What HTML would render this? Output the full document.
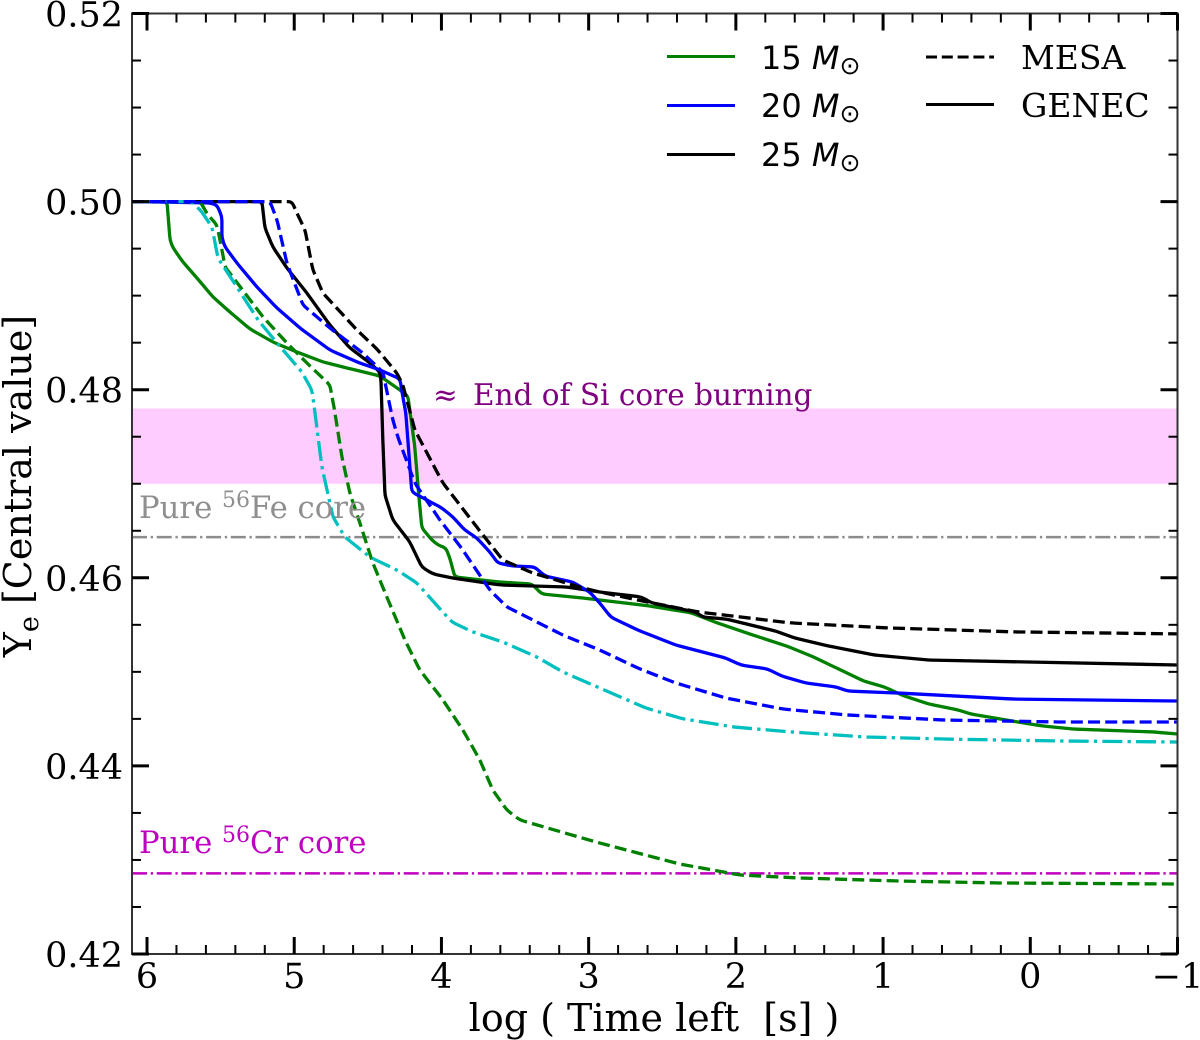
<!DOCTYPE html>
<html lang="en">
<head>
<meta charset="utf-8">
<title>Central Ye vs time left</title>
<style>
html,body{margin:0;padding:0;background:#fff;width:1200px;height:1040px;overflow:hidden}
svg{display:block}
text{font-family:"DejaVu Serif","Liberation Serif",serif;fill:#000;white-space:pre}
.sans{font-family:"DejaVu Sans","Liberation Sans",sans-serif}
</style>
</head>
<body>
<svg id="chart" width="1200" height="1040" viewBox="0 0 1200 1040" xmlns="http://www.w3.org/2000/svg">
  <g id="band-layer"></g>
  <g id="ref-layer"></g>
  <g id="series-layer"></g>
  <g id="axes-layer"></g>

  <text x="433" y="405" font-size="29.5" style="fill:#800080">≈<tspan x="473">End of Si core burning</tspan></text>
  <text x="139" y="518" font-size="30.7" style="fill:#8f8f8f">Pure <tspan dy="-11" font-size="22">56</tspan><tspan dy="11">Fe core</tspan></text>
  <text x="139" y="853" font-size="30.7" style="fill:#c000c0">Pure <tspan dy="-11" font-size="22">56</tspan><tspan dy="11">Cr core</tspan></text>

  <text x="654" y="1031" font-size="38" text-anchor="middle">log ( Time left  [s] )</text>
  <text transform="translate(31,486) rotate(-90)" font-size="38" text-anchor="middle">Y<tspan dy="7" font-size="27">e</tspan><tspan dy="-7"> [Central value]</tspan></text>

  <g>
    <line x1="667" x2="735" y1="56.5" y2="56.5" stroke="#008000" stroke-width="3"/>
    <text class="sans" x="761" y="69" font-size="32">15 <tspan font-style="italic">M</tspan><tspan dy="5" font-size="25">⊙</tspan></text>
    <line x1="667" x2="735" y1="105.5" y2="105.5" stroke="#0000ff" stroke-width="3"/>
    <text class="sans" x="761" y="117" font-size="32">20 <tspan font-style="italic">M</tspan><tspan dy="5" font-size="25">⊙</tspan></text>
    <line x1="667" x2="735" y1="154.5" y2="154.5" stroke="#000" stroke-width="3"/>
    <text class="sans" x="761" y="166" font-size="32">25 <tspan font-style="italic">M</tspan><tspan dy="5" font-size="25">⊙</tspan></text>
    <line x1="926" x2="994" y1="57" y2="57" stroke="#000" stroke-width="3" stroke-dasharray="11 4.8"/>
    <text x="1021" y="69" font-size="33">MESA</text>
    <line x1="926" x2="994" y1="104.5" y2="104.5" stroke="#000" stroke-width="3"/>
    <text x="1021" y="117" font-size="33">GENEC</text>
  </g>
</svg>

<script>
// ---- axis tick labels ----
const xTickValues = [6, 5, 4, 3, 2, 1, 0, -1];
const xTickLabels = ["6", "5", "4", "3", "2", "1", "0", "\u22121"];
const yTickValues = [0.42, 0.44, 0.46, 0.48, 0.50, 0.52];
const yTickLabels = ["0.42", "0.44", "0.46", "0.48", "0.50", "0.52"];

// ---- axis limits ----
const xLimits = [6.102, -1];
const yLimits = [0.42, 0.52];

// ---- reference values ----
const feCoreYe = 0.46433;
const crCoreYe = 0.42857;
const siBandYe = [0.47, 0.478];

// ---- 15 Msun GENEC ----
const m15GenecLogT = [6.102,5.864,5.844,5.823,5.756,5.661,5.552,5.437,5.301,5.145,4.982,4.805,4.642,4.418,4.282,4.228,4.181,4.153,4.133,4.065,4.024,3.970,3.943,3.909,3.603,3.386,3.318,3.040,2.925,2.585,2.300,2.144,1.886,1.655,1.472,1.316,1.132,0.990,0.874,0.691,0.487,0.406,0.121,-0.083,-0.293,-0.836,-1];
const m15GenecYe = [0.5,0.5,0.49592,0.49507,0.49358,0.49188,0.48986,0.48826,0.48646,0.48507,0.48401,0.48295,0.48231,0.48146,0.47997,0.47933,0.47391,0.46859,0.4653,0.46402,0.46349,0.46317,0.46211,0.46009,0.45955,0.45934,0.45828,0.45785,0.45764,0.457,0.45626,0.4553,0.45392,0.45275,0.45158,0.45041,0.44903,0.44839,0.44754,0.44658,0.44594,0.44552,0.44477,0.44424,0.44392,0.44361,0.44339];

// ---- 15 Msun MESA ----
const m15MesaLogT = [6.102,5.640,5.586,5.525,5.491,5.470,5.335,5.212,5.050,4.914,4.758,4.730,4.676,4.622,4.554,4.466,4.371,4.248,4.147,3.990,3.855,3.739,3.651,3.556,3.468,2.925,2.381,1.974,1.567,0.888,0.209,-1];
const m15MesaYe = [0.5,0.5,0.49858,0.49751,0.49486,0.49305,0.49028,0.48773,0.48497,0.48284,0.4805,0.47816,0.47285,0.46902,0.46583,0.46157,0.45796,0.45339,0.4502,0.44701,0.44382,0.44063,0.43744,0.43531,0.43425,0.4318,0.42957,0.4284,0.42808,0.42776,0.42755,0.42744];

// ---- 20 Msun GENEC ----
const m20GenecLogT = [6.102,5.572,5.525,5.491,5.491,5.470,5.389,5.253,5.117,4.961,4.758,4.574,4.418,4.282,4.262,4.242,4.201,4.099,3.997,3.923,3.841,3.760,3.671,3.617,3.515,3.366,3.298,3.108,2.993,2.925,2.850,2.667,2.409,2.069,1.967,1.784,1.689,1.526,1.316,1.241,0.902,0.121,-1];
const m20GenecYe = [0.5,0.49985,0.49964,0.49837,0.49613,0.49518,0.49347,0.49092,0.48869,0.48656,0.48422,0.48295,0.4821,0.48114,0.47923,0.47752,0.46912,0.46827,0.46742,0.46647,0.46508,0.46423,0.46274,0.46157,0.46126,0.46115,0.46019,0.45955,0.45849,0.45732,0.45583,0.45445,0.45286,0.45147,0.45073,0.4503,0.44956,0.44882,0.44839,0.44796,0.44775,0.44711,0.4469];

// ---- 20 Msun MESA ----
const m20MesaLogT = [6.102,5.165,5.117,5.050,4.941,4.758,4.534,4.398,4.330,4.296,4.181,4.011,3.855,3.671,3.556,3.176,2.925,2.667,2.409,2.069,1.682,1.241,0.589,-0.191,-1];
const m20MesaYe = [0.5,0.5,0.49805,0.49347,0.48901,0.48656,0.4839,0.48188,0.47678,0.47497,0.47008,0.46615,0.46296,0.4587,0.4569,0.45392,0.45232,0.45041,0.44882,0.44722,0.44605,0.44541,0.44488,0.44467,0.44467];

// ---- 25 Msun GENEC ----
const m25GenecLogT = [6.102,5.219,5.199,5.145,5.050,4.914,4.758,4.622,4.486,4.418,4.411,4.398,4.384,4.330,4.215,4.133,4.058,3.923,3.603,3.149,2.925,2.640,2.572,2.273,2.225,2.069,1.730,1.601,1.370,1.058,0.691,-1];
const m25GenecYe = [0.5,0.5,0.4972,0.49518,0.49294,0.49028,0.48688,0.48444,0.48284,0.48188,0.48103,0.47465,0.4688,0.46615,0.46381,0.46115,0.46041,0.45998,0.45924,0.45902,0.45849,0.45796,0.45732,0.45636,0.45583,0.45562,0.45434,0.4536,0.45275,0.45179,0.45126,0.45073];

// ---- 25 Msun MESA ----
const m25MesaLogT = [6.102,5.016,4.982,4.927,4.873,4.805,4.574,4.432,4.303,4.262,4.181,3.990,3.760,3.583,3.380,3.040,2.925,2.667,2.253,1.626,0.956,0.073,-1];
const m25MesaYe = [0.5,0.5,0.49879,0.49698,0.49273,0.49028,0.48635,0.48422,0.48178,0.4805,0.47572,0.47008,0.4654,0.46189,0.46051,0.45892,0.45849,0.45764,0.45636,0.4552,0.45466,0.45424,0.45403];

// ---- cyan dash-dot track ----
const cyanLogT = [6.102,5.695,5.627,5.559,5.518,5.389,5.246,5.117,4.948,4.880,4.859,4.812,4.737,4.656,4.486,4.303,4.167,3.990,3.929,3.787,3.583,3.352,3.176,2.925,2.612,2.354,2.015,1.628,1.112,0.589,-0.191,-1];
const cyanYe = [0.5,0.5,0.4989,0.4973,0.494,0.49092,0.48741,0.48497,0.48188,0.47997,0.47752,0.47178,0.46647,0.46434,0.46221,0.46083,0.45945,0.45636,0.4553,0.45424,0.45317,0.45158,0.44999,0.44828,0.44616,0.44499,0.44414,0.44361,0.44307,0.44286,0.44265,0.44254];

const NS = "http://www.w3.org/2000/svg";
const plotLeft = 132, plotRight = 1177.5, plotTop = 13.5, plotBottom = 954;
function xScale(v) { return plotLeft + (xLimits[0] - v) / (xLimits[0] - xLimits[1]) * (plotRight - plotLeft); }
function yScale(v) { return plotBottom - (v - yLimits[0]) / (yLimits[1] - yLimits[0]) * (plotBottom - plotTop); }
function mk(tag, attrs, parent) {
  const el = document.createElementNS(NS, tag);
  for (const k in attrs) el.setAttribute(k, attrs[k]);
  parent.appendChild(el);
  return el;
}

// band
const bandLayer = document.getElementById('band-layer');
const band = mk('rect', {x: plotLeft, width: plotRight - plotLeft, y: yScale(siBandYe[1]), height: yScale(siBandYe[0]) - yScale(siBandYe[1]), fill: '#ffccff'}, bandLayer);



// reference lines
const refLayer = document.getElementById('ref-layer');
const feLine = mk('line', {x1: plotLeft, x2: plotRight, y1: yScale(feCoreYe), y2: yScale(feCoreYe), stroke: '#8c8c8c', 'stroke-width': 2.5, 'stroke-dasharray': '15 3.7 2.3 3.7'}, refLayer);


const crLine = mk('line', {x1: plotLeft, x2: plotRight, y1: yScale(crCoreYe), y2: yScale(crCoreYe), stroke: '#c000c0', 'stroke-width': 2.5, 'stroke-dasharray': '15 3.7 2.3 3.7'}, refLayer);



// series: polyline with slightly rounded joints
const seriesLayer = document.getElementById('series-layer');
function roundedPath(xs, ys) {
  const pts = xs.map((v, i) => [xScale(v), yScale(ys[i])]);
  const r = 4;
  let d = 'M' + pts[0][0].toFixed(1) + ' ' + pts[0][1].toFixed(1);
  for (let i = 1; i < pts.length - 1; i++) {
    const p = pts[i], a = pts[i - 1], b = pts[i + 1];
    const la = Math.hypot(p[0] - a[0], p[1] - a[1]) || 1;
    const lb = Math.hypot(b[0] - p[0], b[1] - p[1]) || 1;
    const ra = Math.min(r, la / 2), rb = Math.min(r, lb / 2);
    const sx = p[0] + (a[0] - p[0]) * ra / la, sy = p[1] + (a[1] - p[1]) * ra / la;
    const ex = p[0] + (b[0] - p[0]) * rb / lb, ey = p[1] + (b[1] - p[1]) * rb / lb;
    d += 'L' + sx.toFixed(1) + ' ' + sy.toFixed(1) + 'Q' + p[0].toFixed(1) + ' ' + p[1].toFixed(1) + ' ' + ex.toFixed(1) + ' ' + ey.toFixed(1);
  }
  const last = pts[pts.length - 1];
  return d + 'L' + last[0].toFixed(1) + ' ' + last[1].toFixed(1);
}
function drawSeries(name, xs, ys, color, dash) {
  const p = mk('path', {d: roundedPath(xs, ys), fill: 'none', stroke: color, 'stroke-width': 3.3, 'stroke-linejoin': 'round'}, seriesLayer);
  if (dash) p.setAttribute('stroke-dasharray', dash);
  
  
}
const DASHED = '12 5.2', DASHDOT = '20 5.2 3.3 5.2';
drawSeries('series-15-genec', m15GenecLogT, m15GenecYe, '#008000', null);
drawSeries('series-25-genec', m25GenecLogT, m25GenecYe, '#000000', null);
drawSeries('series-20-genec', m20GenecLogT, m20GenecYe, '#0000ff', null);
drawSeries('series-25-mesa', m25MesaLogT, m25MesaYe, '#000000', DASHED);
drawSeries('series-15-mesa', m15MesaLogT, m15MesaYe, '#008000', DASHED);
drawSeries('series-cyan', cyanLogT, cyanYe, '#00bfbf', DASHDOT);
drawSeries('series-20-mesa', m20MesaLogT, m20MesaYe, '#0000ff', DASHED);

// axes
const axes = document.getElementById('axes-layer');
const frame = mk('rect', {x: plotLeft, y: plotTop, width: plotRight - plotLeft, height: plotBottom - plotTop, fill: 'none', stroke: '#333', 'stroke-width': 2}, axes);



function tickLine(name, x1, y1, x2, y2, w) {
  const t = mk('line', {x1: x1, y1: y1, x2: x2, y2: y2, stroke: '#000', 'stroke-width': w}, axes);
  
  
}
// x minor ticks every 0.2
for (let i = -5; i <= 35; i++) {
  if (i % 5 === 0) continue;
  const v = i * 0.2 - 1 + 0;
  if (v > xLimits[0] || v < xLimits[1]) continue;
  const px = xScale(v);
  tickLine('x-minor-tick', px, plotBottom, px, plotBottom - 9, 2);
  tickLine('x-minor-tick-top', px, plotTop, px, plotTop + 9, 2);
}
// y minor ticks every 0.005
for (let i = 0; i <= 20; i++) {
  if (i % 4 === 0) continue;
  const v = yLimits[0] + i * 0.005;
  const py = yScale(v);
  tickLine('y-minor-tick', plotLeft, py, plotLeft + 9, py, 2);
  tickLine('y-minor-tick-right', plotRight, py, plotRight - 9, py, 2);
}
// majors and labels
xTickValues.forEach((v, i) => {
  const px = xScale(v);
  tickLine('x-major-tick', px, plotBottom, px, plotBottom - 17, 3);
  tickLine('x-major-tick-top', px, plotTop, px, plotTop + 17, 3);
  const t = mk('text', {x: px, y: 988, 'font-size': 35, 'text-anchor': 'middle'}, axes);
  t.textContent = xTickLabels[i];
  
  
});
yTickValues.forEach((v, i) => {
  const py = yScale(v);
  tickLine('y-major-tick', plotLeft, py, plotLeft + 17, py, 3);
  tickLine('y-major-tick-right', plotRight, py, plotRight - 17, py, 3);
  const t = mk('text', {x: 123, y: py + 13, 'font-size': 35, 'text-anchor': 'end'}, axes);
  t.textContent = yTickLabels[i];
  
  
});
</script>
</body>
</html>
